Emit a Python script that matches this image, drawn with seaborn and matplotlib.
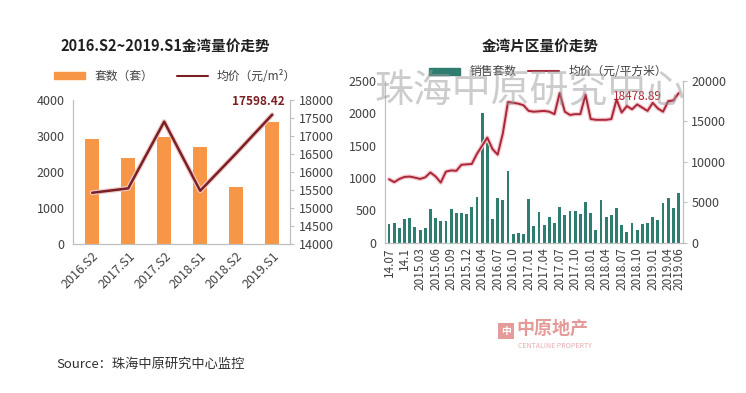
import matplotlib
matplotlib.use("Agg")
import matplotlib.pyplot as plt
import matplotlib.patheffects as pe
from matplotlib.patches import Patch
from matplotlib.lines import Line2D
import pandas as pd
import seaborn as sns

# half-year summary (left chart)
half_years = ["2016.S2", "2017.S1", "2017.S2", "2018.S1", "2018.S2", "2019.S1"]
half_units = [2925, 2405, 2990, 2694, 1592, 3397]
half_price = [15433, 15555, 17406, 15489, 16528, 17598.42]

# monthly series (right chart)
months = ["14.07", "14.08", "14.09", "14.1", "14.11", "14.12",
          "2015.03", "2015.04", "2015.05", "2015.06", "2015.07", "2015.08",
          "2015.09", "2015.10", "2015.11", "2015.12", "2016.02", "2016.03",
          "2016.04", "2016.05", "2016.06", "2016.07", "2016.08", "2016.09",
          "2016.10", "2016.11", "2016.12", "2017.01", "2017.02", "2017.03",
          "2017.04", "2017.05", "2017.06", "2017.07", "2017.08", "2017.09",
          "2017.10", "2017.11", "2017.12", "2018.01", "2018.02", "2018.03",
          "2018.04", "2018.05", "2018.06", "2018.07", "2018.08", "2018.09",
          "2018.10", "2018.11", "2018.12", "2019.01", "2019.02", "2019.03",
          "2019.04", "2019.05", "2019.06"]
month_units = [289, 310, 222, 361, 387, 248, 196, 232, 526, 377,
               341, 341, 521, 459, 459, 444, 547, 712, 2000, 1550,
               366, 697, 660, 1115, 134, 160, 144, 671, 258, 480,
               273, 402, 300, 547, 433, 495, 485, 439, 624, 454,
               206, 655, 392, 428, 537, 273, 165, 310, 196, 289,
               310, 402, 346, 619, 697, 531, 774]
month_price = [7860, 7500, 7900, 8150, 8190, 8060, 7900, 8100, 8700, 8200,
               7450, 8800, 8950, 8900, 9650, 9700, 9750, 11000, 12000, 13000,
               11600, 10900, 13500, 17400, 17300, 17200, 17000, 16300, 16200, 16250,
               16300, 16200, 15900, 18500, 16200, 15800, 15900, 15900, 18300, 15300,
               15200, 15200, 15200, 15300, 17700, 16100, 16900, 16500, 17100, 16700,
               16300, 17300, 16600, 16200, 17500, 17600, 18478.89]

sns.set_theme(style="white")
plt.rcParams["font.family"] = ["Noto Sans CJK SC", "DejaVu Sans"]
plt.rcParams["axes.unicode_minus"] = False

TXT = "#404040"
SPINE = "#BFBFBF"
ORANGE = "#F79646"
MAROON = "#7A1F22"
TEAL = "#2E7D70"
RED = "#A8283A"

fig = plt.figure(figsize=(7.46, 3.93), dpi=100)


def style_axes(ax, ax2):
    for a in (ax, ax2):
        for s in a.spines.values():
            s.set_color(SPINE)
            s.set_linewidth(0.8)
        a.spines["top"].set_visible(False)
        a.set_xlabel("")
        a.set_ylabel("")
        a.grid(False)
    ax.tick_params(axis="y", length=0, labelsize=9, colors=TXT, pad=6)
    ax2.tick_params(axis="y", length=3, width=0.8, color=SPINE, labelsize=9,
                    labelcolor=TXT, pad=3)


# ---- left chart ----
axL = fig.add_axes([0.098, 0.378, 0.291, 0.367])
dfL = pd.DataFrame({"half": half_years, "units": half_units, "price": half_price})
sns.barplot(data=dfL, x="half", y="units", ax=axL, color=ORANGE,
            saturation=1, width=0.38, linewidth=0)
axL.set_ylim(0, 4000)
axL.set_yticks(range(0, 4001, 1000))
axL.set_xlim(-0.53, 5.5)
axL2 = axL.twinx()
sns.lineplot(x=list(range(len(half_years))), y=half_price, ax=axL2,
             color=MAROON, lw=1.8,
             path_effects=[pe.withStroke(linewidth=3.5, foreground="#EFC9C9")])
axL2.set_ylim(14000, 18000)
axL2.set_yticks(range(14000, 18001, 500))
style_axes(axL, axL2)
axL.set_xticks(range(len(half_years)))
axL.set_xticklabels(half_years, rotation=45, ha="right", rotation_mode="anchor")
axL.tick_params(axis="x", length=0, labelsize=9, colors=TXT, pad=4)
axL2.annotate(f"{half_price[-1]:.2f}", xy=(5, half_price[-1]),
              xytext=(-10, 5), textcoords="offset points", ha="center",
              va="bottom", fontsize=8.5, fontweight="bold", color=MAROON)
fig.text(0.222, 0.883, "2016.S2~2019.S1金湾量价走势", ha="center", va="center",
         fontsize=10.5, fontweight="bold", color="#202020")
fig.legend(handles=[Patch(color=ORANGE, label="套数（套）"),
                    Line2D([], [], color=MAROON, lw=1.5, label="均价（元/m²）")],
           loc="center", bbox_to_anchor=(0.235, 0.806), ncol=2, frameon=False,
           fontsize=8.5, handlelength=2.6, handleheight=0.6, columnspacing=2.0,
           labelcolor=TXT)

# ---- right chart ----
axR = fig.add_axes([0.516, 0.382, 0.3995, 0.412])
dfR = pd.DataFrame({"month": months, "units": month_units, "price": month_price})
sns.barplot(data=dfR, x="month", y="units", ax=axR, color=TEAL,
            saturation=1, width=0.55, linewidth=0)
axR.set_ylim(0, 2500)
axR.set_yticks(range(0, 2501, 500))
axR.set_xlim(-0.8, len(months) - 0.15)
axR2 = axR.twinx()
sns.lineplot(x=list(range(len(months))), y=month_price, ax=axR2,
             color=RED, lw=1.4,
             path_effects=[pe.withStroke(linewidth=3.2, foreground="#F6C9CE")])
axR2.set_ylim(0, 20000)
axR2.set_yticks(range(0, 20001, 5000))
style_axes(axR, axR2)
tick_idx = list(range(0, len(months) - 1, 3)) + [len(months) - 1]
axR.set_xticks(tick_idx)
axR.set_xticklabels([months[i] for i in tick_idx], rotation=90)
axR.tick_params(axis="x", length=0, labelsize=8.5, colors=TXT, pad=3)
axR2.annotate(f"{month_price[-1]:.2f}", xy=(len(months) - 1, month_price[-1]),
              xytext=(-30, -7), textcoords="offset points", ha="center",
              va="bottom", fontsize=8.5, color="#B02030")
fig.text(0.724, 0.883, "金湾片区量价走势", ha="center", va="center",
         fontsize=10.5, fontweight="bold", color="#202020")
fig.legend(handles=[Patch(color=TEAL, label="销售套数"),
                    Line2D([], [], color=RED, lw=1.5, label="均价（元/平方米）")],
           loc="center", bbox_to_anchor=(0.735, 0.817), ncol=2, frameon=False,
           fontsize=8.5, handlelength=2.6, handleheight=0.6, columnspacing=1.0,
           labelcolor=TXT)

# watermark
fig.text(0.71, 0.77, "珠海中原研究中心", ha="center", va="center",
         fontsize=28, color="#9A9A9A", alpha=0.5, zorder=10)

# footer
fig.text(0.076, 0.072, "Source：珠海中原研究中心监控", ha="left", va="center",
         fontsize=9.5, color="#303030")
fig.text(0.678, 0.158, "中", ha="center", va="center", fontsize=7,
         color="white", fontweight="bold",
         bbox=dict(boxstyle="square,pad=0.3", fc="#E69A9A", ec="none"))
fig.text(0.692, 0.165, "中原地产", ha="left", va="center", fontsize=13,
         color="#E59A9A", fontweight="bold")
fig.text(0.694, 0.12, "CENTALINE PROPERTY", ha="left", va="center",
         fontsize=5, color="#E8AAAA")

fig.savefig("out.png", dpi=100)
